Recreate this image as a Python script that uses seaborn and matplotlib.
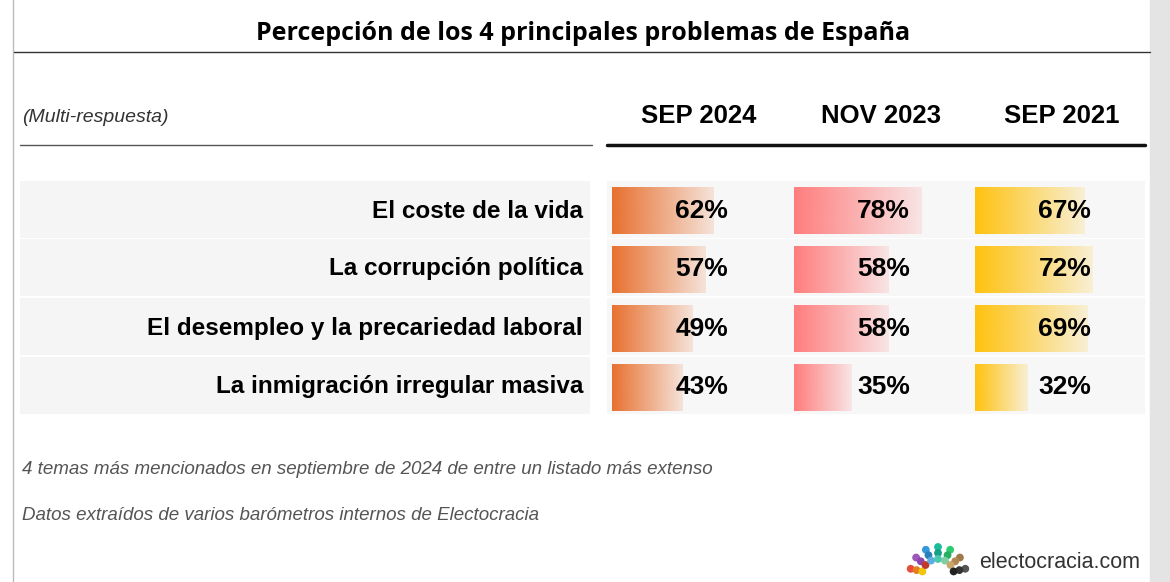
import numpy as np
import pandas as pd
import matplotlib
matplotlib.use("Agg")
import matplotlib.pyplot as plt
import seaborn as sns

problems = ["El coste de la vida", "La corrupción política",
            "El desempleo y la precariedad laboral", "La inmigración irregular masiva"]
periods = ["SEP 2024", "NOV 2023", "SEP 2021"]
sep2024 = [62, 57, 49, 43]
nov2023 = [78, 58, 58, 35]
sep2021 = [67, 72, 69, 32]
colors = ["#E8702F", "#FF7D7D", "#FFC20E"]

sns.set_theme(style="white")
plt.rcParams['font.family'] = ['Liberation Sans', 'DejaVu Sans']
plt.rcParams['text.color'] = 'black'

W, H = 1170, 582
fig = plt.figure(figsize=(W / 100, H / 100), dpi=100)
bg = fig.add_axes([0, 0, 1, 1])
bg.set_xlim(0, W)
bg.set_ylim(H, 0)
bg.axis("off")

# frame pieces
bg.axvline(13, color="#bbbbbb", lw=1)
bg.add_patch(plt.Rectangle((1150, 0), 20, H, color="#e4e4e4"))
bg.plot([14, 1150], [52, 52], color="#333333", lw=1)
bg.text(583, 33, "Percepción de los 4 principales problemas de España", ha="center",
        va="center", fontsize=18, fontweight="bold", family=["Open Sans", "DejaVu Sans"])
bg.text(22, 118, "(Multi-respuesta)", fontsize=14, style="italic", va="center", color="#333333")
bg.plot([20, 592], [145, 145], color="#555555", lw=1)
bg.plot([607, 1145], [145, 145], color="#111111", lw=2.5)
col_starts = [612, 794, 975]
for x0, p in zip(col_starts, periods):
    bg.text(x0 + 87, 116, p, ha="center", va="center", fontsize=18.5, fontweight="bold")

row_y = [211, 269, 328, 387]
for y, name in zip(row_y, problems):
    bg.add_patch(plt.Rectangle((20, y - 30), 570, 57, color="#f5f5f5", lw=0))
    bg.add_patch(plt.Rectangle((607, y - 30), 538, 57, color="#f7f7f7", lw=0))
    bg.text(583, y, name, ha="right", va="center", fontsize=17.5, fontweight="bold")

bg.text(22, 469, "4 temas más mencionados en septiembre de 2024 de entre un listado más extenso",
        fontsize=13.5, style="italic", color="#555555", va="center")
bg.text(22, 516, "Datos extraídos de varios barómetros internos de Electocracia",
        fontsize=13.5, style="italic", color="#555555", va="center")
bg.text(1140, 562, "electocracia.com", ha="right", va="center", fontsize=15.5, color="#333333")
# small hemicycle logo
for r, cs in zip([28, 22, 16], [["#e74c3c", "#9b59b6", "#3498db", "#1abc9c", "#2ecc71", "#a0784c", "#555555"],
                                ["#e67e22", "#8e44ad", "#2980b9", "#16a085", "#27ae60", "#b08850", "#333333"],
                                ["#f1c40f", "#c0392b", "#5dade2", "#48c9b0", "#7dcea0", "#c9a66b", "#222222"]]):
    for i, c in enumerate(cs):
        a = np.pi - (i + 0.5) * np.pi / len(cs)
        bg.add_patch(plt.Circle((938 + r * np.cos(a), 575 - r * np.sin(a)), 3.2, color=c))

values = [sep2024, nov2023, sep2021]
for x0, vals, col in zip(col_starts, values, colors):
    ax = fig.add_axes([x0 / W, (H - 417) / H, 180 / W, (417 - 181) / H])
    df = pd.DataFrame({"problem": problems, "value": vals})
    sns.barplot(data=df, x="value", y="problem", ax=ax, color=col, width=0.79, saturation=1)
    ax.set_xlim(0, 110)
    ax.set_ylim(3.5, -0.5)
    ax.axis("off")
    grad = np.linspace(0, 1, 256).reshape(1, -1)
    for patch, v in zip(ax.patches, vals):
        bx, by = patch.get_x(), patch.get_y()
        bw, bh = patch.get_width(), patch.get_height()
        patch.set_visible(False)
        rgba = np.zeros((1, 256, 4))
        rgba[..., :3] = matplotlib.colors.to_rgb(col)
        rgba[..., 3] = 1 - 0.85 * grad
        im = ax.imshow(rgba, extent=[bx, bx + bw, by + bh, by], aspect="auto", zorder=2)
        im.set_clip_path(patch)
        ax.text(71, by + bh / 2, f"{v}%", ha="right", va="center", fontsize=19,
                fontweight="bold", zorder=3)
    ax.set_xlim(0, 110)
    ax.set_ylim(3.5, -0.5)

fig.savefig("out.png", dpi=100)
